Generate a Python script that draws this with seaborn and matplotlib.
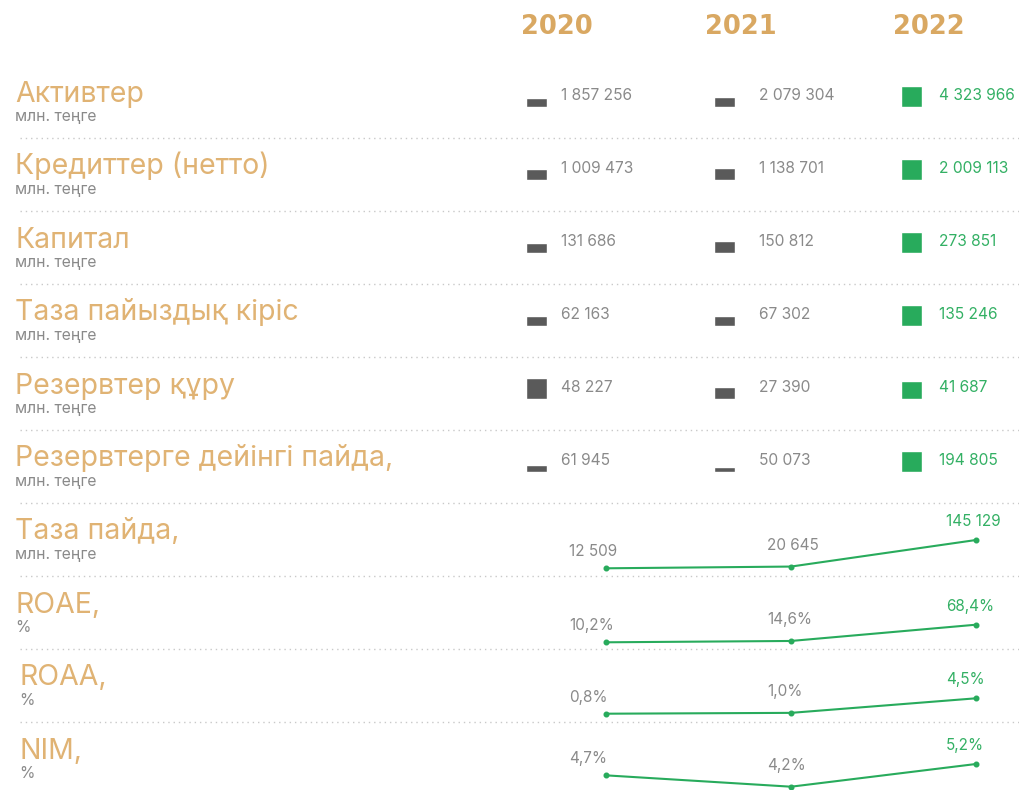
import matplotlib
matplotlib.use("Agg")
import matplotlib.pyplot as plt
import seaborn as sns
import pandas as pd

# ---------------- data ----------------
years = ["2020", "2021", "2022"]

bar_titles = ["Активтер", "Кредиттер (нетто)", "Капитал", "Таза пайыздық кіріс",
              "Резервтер құру", "Резервтерге дейінгі пайда,"]
assets = [1857256, 2079304, 4323966]
loans_net = [1009473, 1138701, 2009113]
capital = [131686, 150812, 273851]
net_interest_income = [62163, 67302, 135246]
provisions = [48227, 27390, 41687]
pre_provision_profit = [61945, 50073, 194805]

line_titles = ["Таза пайда,", "ROAE,", "ROAA,", "NIM,"]
net_income = [12509, 20645, 145129]
roae = [10.2, 14.6, 68.4]
roaa = [0.8, 1.0, 4.5]
nim = [4.7, 4.2, 5.2]

unit_money = "млн. теңге"
unit_pct = "%"

# ---------------- style ----------------
GOLD_T = "#E0B374"
GOLD_Y = "#D9A862"
GRAY_TXT = "#8A8A8A"
GRAY_BAR = "#5A5A5A"
GREEN = "#28AB5C"
GREEN_TXT = "#33B064"
SEP = "#C9C9C9"

sns.set_theme(style="white")
plt.rcParams["font.family"] = ["Inter", "Noto Sans", "DejaVu Sans"]

W, H = 1020, 790
fig = plt.figure(figsize=(W / 100, H / 100), dpi=100)
fig.patch.set_facecolor("white")
ax0 = fig.add_axes([0, 0, 1, 1])
ax0.set_xlim(0, W)
ax0.set_ylim(H, 0)
ax0.axis("off")


def px_axes(left, top, width, height):
    a = fig.add_axes([left / W, 1 - (top + height) / H, width / W, height / H])
    a.patch.set_alpha(0)
    return a


def fmt_num(v):
    return f"{v:,}".replace(",", " ")


def fmt_pct(v):
    return f"{v:.1f}%".replace(".", ",")


PITCH = 73

# year headers
for x, y in zip([557, 741, 929], years):
    ax0.text(x, 34, y, ha="center", va="baseline", fontsize=18.5, fontweight="bold",
             color=GOLD_Y, family=["DejaVu Sans"])

# separators
for i in range(9):
    yy = 138 + PITCH * i
    ax0.plot([20, W], [yy, yy], color=SEP, lw=1, dashes=(1, 2.8), solid_capstyle="butt")

# row titles
all_titles = bar_titles + line_titles
units = [unit_money] * 7 + [unit_pct] * 3
for i, (t, u) in enumerate(zip(all_titles, units)):
    xoff = 20 if i >= 8 else 15
    ax0.text(xoff, 101.5 + PITCH * i, t, ha="left", va="baseline", fontsize=20.5,
             fontweight="normal", color=GOLD_T)
    ax0.text(xoff - (1 if i >= 8 else 0), 121 + PITCH * i, u, ha="left", va="baseline",
             fontsize=11.3, color=GRAY_TXT)

# bar rows
bar_series = [assets, loans_net, capital, net_interest_income, provisions, pre_provision_profit]
num_x = [561, 759, 939]
for i, vals in enumerate(bar_series):
    bottom = 107 + PITCH * i
    ax = px_axes(442.75, bottom - 21, 562.5, 21)
    df = pd.DataFrame({"year": years, "value": vals})
    sns.barplot(data=df, x="year", y="value", hue="year", palette=[GRAY_BAR, GRAY_BAR, GREEN],
                width=0.112, saturation=1, legend=False, ax=ax)
    ax.set_xlim(-0.5, 2.5)
    ax.set_ylim(0, max(vals))
    ax.axis("off")
    for j, v in enumerate(vals):
        ax0.text(num_x[j], bottom - 7, fmt_num(v), ha="left", va="baseline", fontsize=11.2,
                 color=GREEN_TXT if j == 2 else GRAY_TXT)

# line rows (pixel position of min and max value per row)
line_series = [net_income, roae, roaa, nim]
line_fmt = [fmt_num, fmt_pct, fmt_pct, fmt_pct]
px_range = [(540, 568.3), (624.7, 642.3), (698.3, 713.7), (764, 786.7)]
label_dx = [-37, -24, -30]
label_dy = [12, 17, 14]
for k, vals in enumerate(line_series):
    top, bot = px_range[k]
    ax = px_axes(513.5, top, 555, bot - top)
    sns.pointplot(x=years, y=vals, color=GREEN, markers="o", markersize=3.2,
                  linewidth=1.5, ax=ax)
    ax.set_xlim(-0.5, 2.5)
    ax.set_ylim(min(vals), max(vals))
    ax.axis("off")
    for art in list(ax.lines) + list(ax.collections):
        art.set_clip_on(False)
    for j, v in enumerate(vals):
        ax.annotate(line_fmt[k](v), (j, v), xytext=(label_dx[j], label_dy[j]),
                    textcoords="offset pixels", ha="left", va="baseline", fontsize=11,
                    color=GREEN_TXT if j == 2 else GRAY_TXT, annotation_clip=False)

fig.savefig("out.png", dpi=100, facecolor="white")
